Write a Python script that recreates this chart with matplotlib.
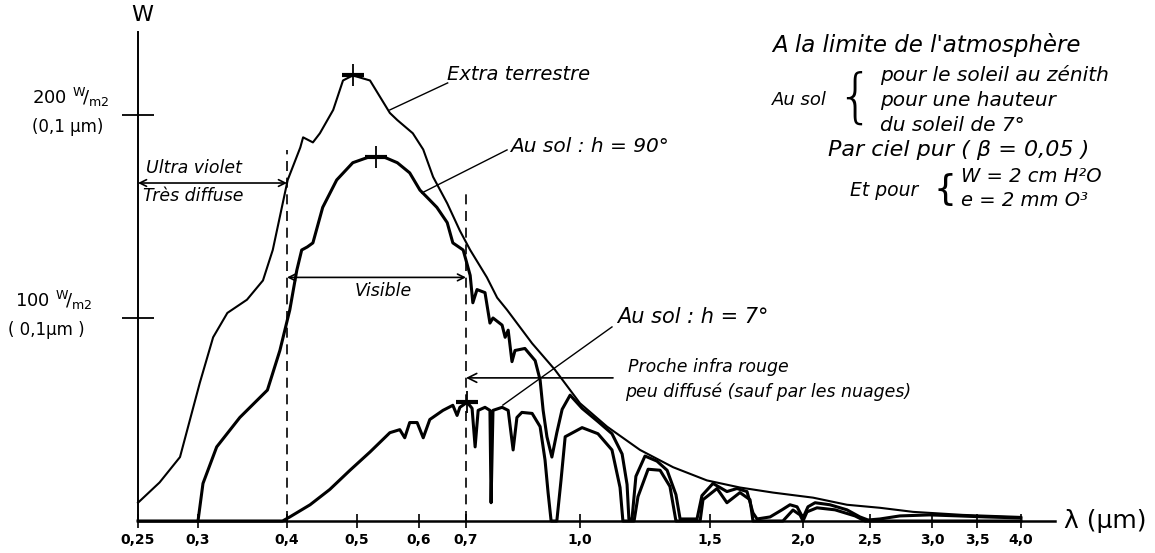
import numpy as np
import matplotlib
matplotlib.use('Agg')
import matplotlib.pyplot as plt

# spectral irradiance, W/m2 per 0.1 um
ext_lam = [0.25, 0.268, 0.285, 0.302, 0.317, 0.333, 0.355, 0.373, 0.384, 0.401,
           0.419, 0.423, 0.437, 0.447, 0.466, 0.480, 0.494, 0.521, 0.537, 0.553,
           0.565, 0.590, 0.609, 0.630, 0.660, 0.687, 0.711, 0.755, 0.782, 0.808,
           0.874, 0.934, 1.0, 1.104, 1.231, 1.358, 1.488, 1.661, 1.839, 2.075,
           2.328, 2.581, 2.847, 3.344, 4.0]
ext_w = [9, 19, 31.5, 68, 90.5, 102.5, 109, 118.5, 133.5, 168,
         184, 189, 186.5, 191, 202.5, 217, 219.5, 217, 209, 201,
         197.5, 191, 183, 169.5, 156.5, 143, 133.5, 120, 110, 104,
         87.5, 74.5, 58, 46.5, 35, 26.5, 20, 16.5, 14, 11.5,
         8, 6.5, 4.5, 3, 2]

h90_lam = [0.3, 0.3056, 0.321, 0.347, 0.378, 0.392, 0.404, 0.414, 0.421, 0.429,
           0.437, 0.451, 0.471, 0.494, 0.521, 0.542, 0.565, 0.585, 0.602, 0.617,
           0.638, 0.660, 0.672, 0.694, 0.711, 0.718, 0.729, 0.750, 0.763, 0.771,
           0.795, 0.803, 0.811, 0.821, 0.829, 0.855, 0.882, 0.895, 0.903, 0.913,
           0.926, 0.939, 0.953, 0.974, 1.008, 1.069, 1.123, 1.162, 1.181, 1.188,
           1.2, 1.215, 1.25, 1.296, 1.335, 1.369, 1.385, 1.45, 1.469, 1.516,
           1.591, 1.645, 1.699, 1.731, 1.753, 1.823, 1.887, 1.930, 1.968, 2.0,
           2.037, 2.09, 2.201, 2.328, 2.425, 2.485, 2.58, 2.74, 2.98, 3.3,
           3.6, 4.0]
h90_w = [0, 18.5, 36.5, 51, 64.5, 84, 104, 123.5, 133.5, 135,
         137, 154.5, 168, 176.5, 179.5, 179.5, 176.5, 171.5, 163, 159.5,
         154.5, 147, 137, 133.5, 121, 107.5, 114, 112.5, 97.5, 100,
         96.5, 90.5, 94, 78.5, 84, 85, 79, 69.5, 54.5, 41.5,
         31.5, 43.5, 55, 62, 55.5, 49, 43, 33, 18, 1,
         1, 22, 32, 29.5, 25, 13, 1, 1, 12.5, 18.5,
         14.5, 16, 14.5, 4, 1, 2, 5.5, 8, 7, 1.5,
         7, 9, 8, 5.5, 2, 0.5, 1, 2.5, 3, 2.5,
         2, 1.5]

h7_lam = [0.25, 0.395, 0.404, 0.433, 0.461, 0.490, 0.521, 0.553, 0.569, 0.577,
          0.585, 0.597, 0.609, 0.623, 0.651, 0.672, 0.681, 0.687, 0.703, 0.716,
          0.724, 0.732, 0.750, 0.763, 0.766, 0.771, 0.795, 0.811, 0.824, 0.834,
          0.847, 0.874, 0.895, 0.908, 0.916, 0.924, 0.939, 0.950, 0.961, 1.008,
          1.069, 1.123, 1.154, 1.165, 1.208, 1.223, 1.262, 1.308, 1.346, 1.369,
          1.462, 1.473, 1.538, 1.591, 1.661, 1.715, 1.731, 1.892, 1.946, 1.984,
          2.0, 2.03, 2.104, 2.239, 2.388, 2.463, 4.0]
h7_w = [0, 0, 2, 8, 15.5, 25, 34, 43.5, 45, 41,
        48.5, 48.5, 41, 50, 54.5, 57, 52, 56, 58.5, 55.5,
        36.5, 54.5, 56, 54.5, 9, 54.5, 56, 54.5, 35, 51,
        53.5, 53, 46.5, 30, 14, 0, 0, 20, 41.5, 46,
        43, 35, 16.5, 0, 0, 12, 25.5, 25, 17, 0,
        0, 10.5, 16, 9, 14, 10.5, 0, 0, 5.4, 3,
        0, 4.5, 6.5, 5.5, 2.5, 0, 0]

# peaks marked with a cross on the drawing
peak_lam = [0.494, 0.53, 0.703]
peak_w = [219.5, 179.5, 58.5]

tick_vals = [0.25, 0.3, 0.4, 0.5, 0.6, 0.7, 1.0, 1.5, 2.0, 2.5, 3.0, 3.5, 4.0]
tick_labels = ['0,25', '0,3', '0,4', '0,5', '0,6', '0,7', '1,0', '1,5', '2,0',
               '2,5', '3,0', '3,5', '4,0']

# the wavelength axis of the drawing is not linear: knots of that scale
scale_lam = tick_vals + [5.0]
scale_pos = [138, 198, 287, 357, 419, 466, 580, 710, 803, 870, 932, 977, 1021, 1109]


def fwd(x):
    return np.interp(x, scale_lam, scale_pos)


def inv(p):
    return np.interp(p, scale_pos, scale_lam)


W, H = 1155, 553


def at(x, y):
    # pixel position in the picture -> figure fraction
    return x / W, 1 - y / H


fig = plt.figure(figsize=(W / 100, H / 100), dpi=100)
fig.patch.set_facecolor('white')
ax = fig.add_axes([138 / W, 32 / H, (1055 - 138) / W, (521 - 32) / H])
ax.set_xscale('function', functions=(fwd, inv))
ax.set_xlim(0.25, inv(1055))
ax.set_ylim(0, (521 - 32) / 2.03)

ax.spines['top'].set_visible(False)
ax.spines['right'].set_visible(False)
ax.spines['left'].set_linewidth(1.4)
ax.spines['bottom'].set_linewidth(1.8)

ax.set_xticks(tick_vals)
ax.set_xticklabels(tick_labels)
ax.xaxis.set_minor_locator(matplotlib.ticker.NullLocator())
ax.tick_params(axis='x', direction='inout', length=10, width=1.2, pad=4,
               labelsize=10)
for lab in ax.get_xticklabels():
    lab.set_fontweight('bold')
ax.set_yticks([100, 200])
ax.tick_params(axis='y', direction='inout', length=23, width=1.3,
               labelleft=False)

ax.plot(ext_lam, ext_w, color='k', lw=1.5, clip_on=False,
        solid_joinstyle='round')
ax.plot(h90_lam, h90_w, color='k', lw=2.2, clip_on=False,
        solid_joinstyle='round')
ax.plot(h7_lam, h7_w, color='k', lw=2.2, clip_on=False,
        solid_joinstyle='round')
ax.plot(peak_lam, peak_w, ls='none', marker='+', ms=16, mew=1.3, color='k')
ax.plot(peak_lam, peak_w, ls='none', marker='_', ms=16, mew=3, color='k')

# band limits
ax.plot([0.4, 0.4], [0, 183], color='k', lw=1.2, dashes=(6, 4))
ax.plot([0.7, 0.7], [0, 162], color='k', lw=1.2, dashes=(6, 4))

arr = dict(arrowstyle='<->', lw=1.2, color='k', shrinkA=0, shrinkB=0,
           mutation_scale=12)
ax.annotate('', xy=(0.25, 166.5), xytext=(0.4, 166.5), arrowprops=arr)
ax.annotate('', xy=(0.4, 120), xytext=(0.7, 120), arrowprops=arr)
ax.annotate('', xy=(0.7, 70.5), xytext=(1.127, 70.5),
            arrowprops=dict(arrowstyle='->', lw=1.2, color='k', shrinkA=0,
                            shrinkB=0, mutation_scale=16))

# leader lines to the curve names
ax.plot([0.553, 0.661], [202.5, 215.8], color='k', lw=1)
ax.plot([0.606, 0.808], [161.6, 182.8], color='k', lw=1)
ax.plot([0.797, 1.123], [57.1, 95.6], color='k', lw=1)

it = dict(style='italic', color='k', va='center')
fig.text(*at(447, 75), 'Extra terrestre', fontsize=14, **it)
fig.text(*at(510, 147), 'Au sol : h = 90°', fontsize=14.5, **it)
fig.text(*at(617, 317), 'Au sol : h = 7°', fontsize=15, **it)
fig.text(*at(628, 367), 'Proche infra rouge', fontsize=12.5, **it)
fig.text(*at(625, 392), 'peu diffusé (sauf par les nuages)', fontsize=12.5, **it)
fig.text(*at(146, 168), 'Ultra violet', fontsize=12.5, **it)
fig.text(*at(143, 196), 'Très diffuse', fontsize=12.5, **it)
fig.text(*at(383, 291), 'Visible', fontsize=12.5, ha='center', **it)

fig.text(*at(772, 45), "A la limite de l'atmosphère", fontsize=16.5, **it)
fig.text(*at(772, 100), 'Au sol', fontsize=13, **it)
fig.text(*at(855, 99), '{', fontsize=42, ha='center', color='k', va='center',
         fontweight='light')
fig.text(*at(880, 75), 'pour le soleil au zénith', fontsize=14.5, **it)
fig.text(*at(880, 100), 'pour une hauteur', fontsize=14.5, **it)
fig.text(*at(880, 125), 'du soleil de 7°', fontsize=14.5, **it)
fig.text(*at(828, 150), 'Par ciel pur ( β = 0,05 )', fontsize=16, **it)
fig.text(*at(850, 190), 'Et pour', fontsize=13.5, **it)
fig.text(*at(945, 190), '{', fontsize=26, ha='center', color='k', va='center')
fig.text(*at(961, 177), 'W = 2 cm H²O', fontsize=14, **it)
fig.text(*at(961, 201), 'e = 2 mm O³', fontsize=14, **it)

# axis names and scale labels
fig.text(*at(142, 15), 'W', fontsize=16, ha='center', va='center')
fig.text(*at(1105, 521), 'λ (µm)', fontsize=18, ha='center', va='center')
fig.text(*at(32, 97), '200 $^{\\mathregular{W}}\\!/_{\\mathregular{m2}}$',
         fontsize=13, va='center')
fig.text(*at(32, 127), '(0,1 µm)', fontsize=12, va='center')
fig.text(*at(15, 300), '100 $^{\\mathregular{W}}\\!/_{\\mathregular{m2}}$',
         fontsize=13, va='center')
fig.text(*at(8, 330), '( 0,1µm )', fontsize=12, va='center')

fig.savefig('out.png', dpi=100, facecolor='white')
